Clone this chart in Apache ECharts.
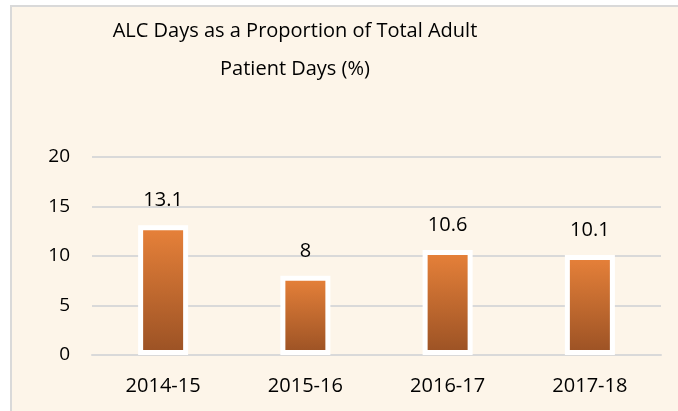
<!DOCTYPE html>
<html>
<head>
<meta charset="utf-8">
<script src="https://cdn.jsdelivr.net/npm/echarts@6/dist/echarts.min.js"></script>
<style>
  html, body { margin: 0; padding: 0; background: #ffffff; }
  #frame {
    position: absolute; left: 10px; top: 5px;
    width: 666px; height: 404px;
    border-left: 2px solid #d9d9d9; border-top: 2px solid #d9d9d9;
    background: #fdf5e9;
  }
  #chart { width: 666px; height: 404px; }
</style>
</head>
<body>
<div id="frame"><div id="chart"></div></div>
<script>
// 데이터
const years = ['2014-15', '2015-16', '2016-17', '2017-18'];
const alcShare = [13.1, 8, 10.6, 10.1];
const yTicks = [0, 5, 10, 15, 20];

const chart = echarts.init(document.getElementById('chart'));

const font = '"Open Sans", "Noto Sans", sans-serif';

const option = {
  backgroundColor: 'transparent',
  animation: false,
  title: {
    text: 'ALC Days as a Proportion of Total Adult\nPatient Days (%)',
    left: 278,
    textAlign: 'center',
    top: 0,
    textStyle: {
      fontFamily: font,
      fontSize: 20,
      fontWeight: 'normal',
      color: '#000',
      lineHeight: 38,
    },
  },
  grid: {
    left: 80,
    right: 17,
    top: 150,
    bottom: 56,
  },
  xAxis: {
    type: 'category',
    data: years,
    axisLine: { lineStyle: { color: '#d9d9d9', width: 2 } },
    axisTick: { show: false },
    axisLabel: {
      margin: 21,
      fontFamily: font,
      fontSize: 20,
      color: '#000',
    },
  },
  yAxis: {
    type: 'value',
    min: yTicks[0],
    max: yTicks[yTicks.length - 1],
    interval: 5,
    axisLine: { show: false },
    axisTick: { show: false },
    splitLine: { lineStyle: { color: '#d9d9d9', width: 2 } },
    axisLabel: {
      margin: 22,
      fontFamily: font,
      fontSize: 19,
      color: '#000',
    },
  },
  series: [
    {
      type: 'bar',
      data: alcShare,
      barWidth: 50,
      itemStyle: {
        color: new echarts.graphic.LinearGradient(0, 0, 0, 1, [
          { offset: 0, color: '#e8823a' },
          { offset: 1, color: '#9a5124' },
        ]),
        borderColor: '#ffffff',
        borderWidth: 5,
      },
      label: {
        show: true,
        position: 'top',
        distance: 15,
        fontFamily: font,
        fontSize: 20,
        color: '#000',
      },
    },
  ],
};

chart.setOption(option);
</script>
</body>
</html>
